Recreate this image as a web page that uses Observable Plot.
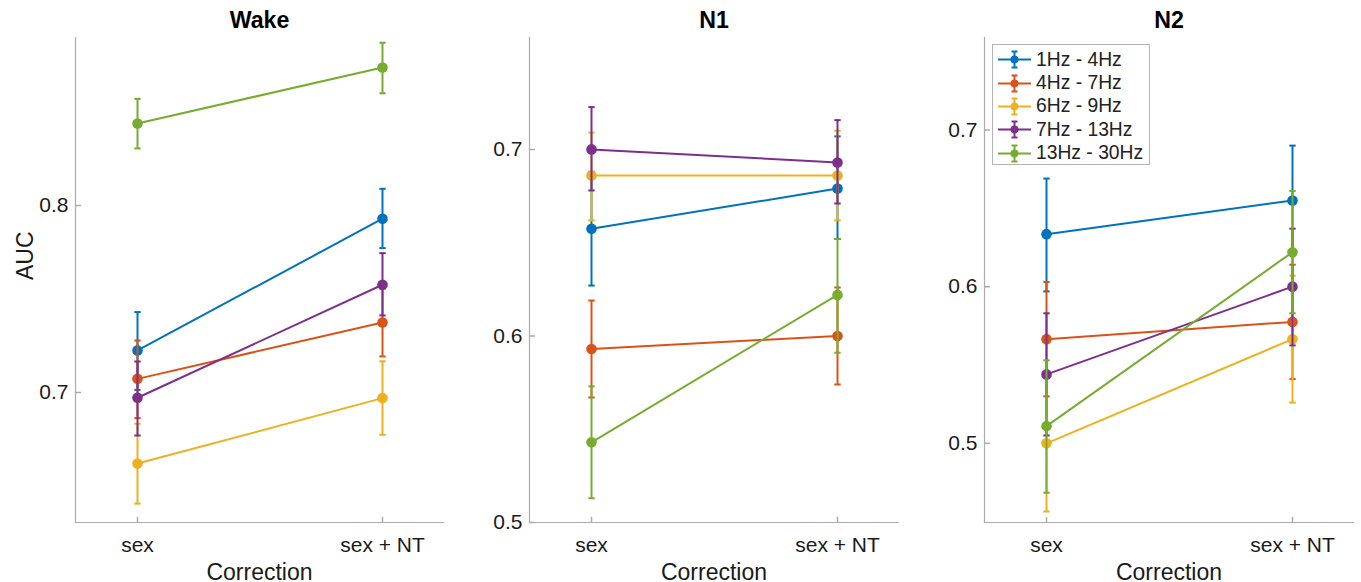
<!DOCTYPE html>
<html>
<head>
<meta charset="utf-8">
<script src="https://cdn.jsdelivr.net/npm/d3@7"></script>
<script src="https://cdn.jsdelivr.net/npm/@observablehq/plot@0.6"></script>
<style>
  html, body { margin: 0; padding: 0; background: #fff; }
  #chart { position: relative; width: 1361px; height: 582px; font-family: "Liberation Sans", Arial, sans-serif; }
  #chart svg.plot { position: absolute; top: 0; }
  #legend { position: absolute; left: 992px; top: 44px; width: 158px; height: 121px; border: 1px solid #b4b4b4; background: #fff; box-sizing: border-box; padding-top: 3px; }
  #legend .row { display: flex; align-items: center; height: 23.4px; font-size: 19.3px; color: #222; }
  #legend .row svg { display: block; margin-right: 0px; }
</style>
</head>
<body>
<div id="chart"></div>
<script>
// ---- data ----
const bands = ["1Hz - 4Hz", "4Hz - 7Hz", "6Hz - 9Hz", "7Hz - 13Hz", "13Hz - 30Hz"];
const colors = ["#0072BD", "#D95319", "#EDB120", "#7E2F8E", "#77AC30"];
const corrections = ["sex", "sex + NT"];
const stages = ["Wake", "N1", "N2"];

// AUC per band: [sex, sex + NT]
const wakeAUC = [[0.7225, 0.7929], [0.7073, 0.7374], [0.662, 0.697], [0.6972, 0.7576], [0.8438, 0.8738]];
const wakeLo  = [[0.7014, 0.7772], [0.6863, 0.7193], [0.6406, 0.6774], [0.677, 0.7412], [0.8305, 0.860]];
const wakeHi  = [[0.743, 0.8089], [0.7278, 0.7555], [0.6833, 0.7167], [0.7166, 0.7745], [0.857, 0.887]];

const n1AUC = [[0.6575, 0.679], [0.593, 0.600], [0.686, 0.686], [0.700, 0.693], [0.543, 0.622]];
const n1Lo  = [[0.627, 0.652], [0.567, 0.574], [0.662, 0.662], [0.678, 0.671], [0.513, 0.591]];
const n1Hi  = [[0.688, 0.707], [0.619, 0.626], [0.709, 0.710], [0.7227, 0.7157], [0.573, 0.652]];

const n2AUC = [[0.6335, 0.655], [0.5665, 0.5775], [0.500, 0.5665], [0.544, 0.600], [0.511, 0.622]];
const n2Lo  = [[0.597, 0.620], [0.530, 0.541], [0.4565, 0.526], [0.505, 0.5625], [0.4685, 0.583]];
const n2Hi  = [[0.669, 0.690], [0.603, 0.614], [0.5435, 0.607], [0.583, 0.637], [0.553, 0.661]];

const wakeDomain = [0.6305, 0.8898];
const n1Domain = [0.5, 0.76];
const n2Domain = [0.4495, 0.759];
const wakeTicks = [0.7, 0.8];
const n1Ticks = [0.5, 0.6, 0.7];
const n2Ticks = [0.5, 0.6, 0.7];

// ---- drawing ----
const axisColor = "#ababab";
const textColor = "#1a1a1a";
const capSymbol = { draw(ctx) { ctx.moveTo(-3.2, 0); ctx.lineTo(3.2, 0); } };
const tickShape = { draw(ctx, l) { ctx.moveTo(0, 0); ctx.lineTo(0, -l); } };

function panel({stage, auc, lo, hi, yDomain, yTicks, left, width, marginLeft, marginRight, yLabel}) {
  const rows = [];
  bands.forEach((b, i) => corrections.forEach((c, j) =>
    rows.push({band: b, idx: i, corr: c, auc: auc[i][j], lo: lo[i][j], hi: hi[i][j]})));
  const marks = [
    Plot.frame({anchor: "left", stroke: axisColor, strokeWidth: 1.2}),
    Plot.frame({anchor: "bottom", stroke: axisColor, strokeWidth: 1.2}),
    Plot.vector(yTicks, {y: d => d, frameAnchor: "left", rotate: 90, length: 5, anchor: "start", shape: tickShape, stroke: axisColor}),
    Plot.vector(corrections, {x: d => d, frameAnchor: "bottom", rotate: 0, length: 5, anchor: "start", shape: tickShape, stroke: axisColor}),
    Plot.axisY({ticks: yTicks, tickSize: 0, tickPadding: 7, tickFormat: d => d.toFixed(1), label: null, fill: textColor}),
    Plot.axisX({tickSize: 0, tickPadding: 14.2, label: null, fill: textColor}),
    Plot.text([stage], {frameAnchor: "top", dy: -10, lineAnchor: "bottom", fontSize: 23.2, fontWeight: "bold", fill: "#000"}),
    Plot.text(["Correction"], {frameAnchor: "bottom", dy: 57, lineAnchor: "bottom", fontSize: 23, fill: textColor})
  ];
  if (yLabel) marks.push(Plot.text([yLabel], {frameAnchor: "left", dx: -43, rotate: -90, lineAnchor: "bottom", fontSize: 23, fill: textColor}));
  bands.forEach((b, i) => {
    const d = rows.filter(r => r.idx === i);
    const col = colors[i];
    marks.push(
      Plot.ruleX(d, {x: "corr", y1: "lo", y2: "hi", stroke: col, strokeWidth: 2}),
      Plot.dot(d, {x: "corr", y: "lo", symbol: capSymbol, r: 3, stroke: col, fill: "none", strokeWidth: 2}),
      Plot.dot(d, {x: "corr", y: "hi", symbol: capSymbol, r: 3, stroke: col, fill: "none", strokeWidth: 2}),
      Plot.line(d, {x: "corr", y: "auc", stroke: col, strokeWidth: 2}),
      Plot.dot(d, {x: "corr", y: "auc", r: 5.3, fill: col, stroke: "none"})
    );
  });
  const svg = Plot.plot({
    width, height: 582,
    marginLeft, marginRight, marginTop: 37, marginBottom: 60,
    x: {type: "point", domain: corrections, padding: 0.25},
    y: {domain: yDomain},
    style: {fontFamily: "'Liberation Sans', Arial, sans-serif", fontSize: "21px", color: textColor, background: "transparent", overflow: "visible"},
    marks
  });
  svg.classList.add("plot");
  svg.style.left = left + "px";
  return svg;
}

const chart = document.getElementById("chart");
chart.append(panel({stage: stages[0], auc: wakeAUC, lo: wakeLo, hi: wakeHi, yDomain: wakeDomain, yTicks: wakeTicks, left: 0, width: 455, marginLeft: 75, marginRight: 12, yLabel: "AUC"}));
chart.append(panel({stage: stages[1], auc: n1AUC, lo: n1Lo, hi: n1Hi, yDomain: n1Domain, yTicks: n1Ticks, left: 455, width: 455, marginLeft: 74, marginRight: 12}));
chart.append(panel({stage: stages[2], auc: n2AUC, lo: n2Lo, hi: n2Hi, yDomain: n2Domain, yTicks: n2Ticks, left: 910, width: 451, marginLeft: 74, marginRight: 8}));

// legend (N2 panel, upper left)
const legend = document.createElement("div");
legend.id = "legend";
bands.forEach((b, i) => {
  const row = document.createElement("div");
  row.className = "row";
  const c = colors[i];
  row.innerHTML = `<svg width="43" height="23" viewBox="0 0 43 23">
      <line x1="5" x2="38" y1="11.5" y2="11.5" stroke="${c}" stroke-width="2"/>
      <line x1="21.5" x2="21.5" y1="3.5" y2="19.5" stroke="${c}" stroke-width="2"/>
      <line x1="18.5" x2="24.5" y1="3.5" y2="3.5" stroke="${c}" stroke-width="2"/>
      <line x1="18.5" x2="24.5" y1="19.5" y2="19.5" stroke="${c}" stroke-width="2"/>
      <circle cx="21.5" cy="11.5" r="4" fill="${c}"/>
    </svg><span>${b}</span>`;
  legend.append(row);
});
chart.append(legend);
</script>
</body>
</html>
